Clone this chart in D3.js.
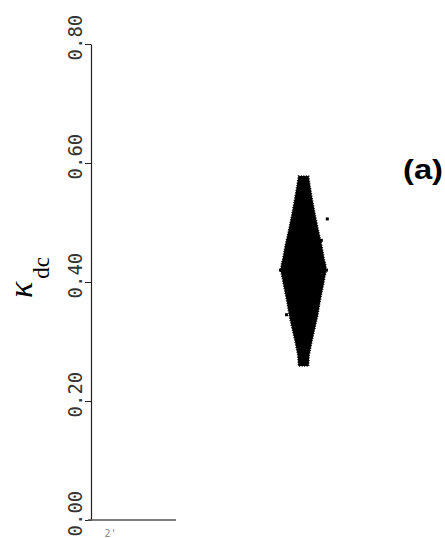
<!DOCTYPE html>
<html>
  <head>
    <title></title>
    <style type="text/css">
        html, body{
            padding: 0px;
            margin: 0px;
            background: #fff;
        }
        .tick text{
            font-family: "DejaVu Sans Mono", monospace;
            font-size: 19px;
            fill: #333;
        }
    </style>
  </head>
  <body>
    <div id="vis"></div>
    <script src="https://cdnjs.cloudflare.com/ajax/libs/d3/7.8.5/d3.min.js"></script>
    <script type="text/javascript">

        var width = 445,
            height = 538;

        // y ticks
        var yTicks = [0.00, 0.20, 0.40, 0.60, 0.80];
        var yTickLabels = ["0.00", "0.20", "0.40", "0.60", "0.80"];

        // envelope of the kappa_dc cloud
        var cloudCenter = 2.5;
        var cloudKappa = [0.259, 0.277, 0.300, 0.319, 0.345, 0.370, 0.395, 0.410, 0.420, 0.432, 0.437, 0.462, 0.487, 0.512, 0.538, 0.560, 0.578];
        var cloudHalf  = [0.060, 0.068, 0.100, 0.130, 0.170, 0.200, 0.235, 0.255, 0.270, 0.258, 0.247, 0.215, 0.176, 0.140, 0.106, 0.080, 0.060];

        // a few stray points at the edge
        var strayX = [2.23, 2.77, 2.78, 2.30, 2.71];
        var strayK = [0.420, 0.420, 0.506, 0.345, 0.470];

        var svg = d3.select("#vis").append("svg")
            .attr("width", width)
            .attr("height", height);

        var x = d3.scaleLinear().domain([0, 4]).range([91, 431]);
        var y = d3.scaleLinear().domain([0, 0.8]).range([520, 44]);

        // y axis
        var yAxis = d3.axisLeft(y)
            .tickValues(yTicks)
            .tickFormat(function(d, i) { return yTickLabels[i]; })
            .tickSize(6)
            .tickSizeOuter(0);

        var gy = svg.append("g")
            .attr("transform", "translate(" + x(0) + ",0)")
            .call(yAxis);

        gy.select(".domain").attr("stroke", "#222").attr("stroke-width", 1.2);
        gy.selectAll(".tick line").attr("stroke", "#222");
        gy.selectAll(".tick text")
            .attr("x", null).attr("dy", null)
            .attr("text-anchor", "start")
            .attr("transform", "translate(-9,16) rotate(-90)")
            .attr("x", 0).attr("y", 0);

        // short bottom axis line
        svg.append("line")
            .attr("x1", x(0) - 3).attr("x2", x(1))
            .attr("y1", y(0)).attr("y2", y(0))
            .attr("stroke", "#555")
            .attr("stroke-width", 1.3);

        // x tick label at the bottom edge
        svg.append("text")
            .attr("x", x(0.16))
            .attr("y", 537)
            .attr("font-family", "DejaVu Sans Mono, monospace")
            .attr("font-size", 10)
            .attr("fill", "#888")
            .text("2'");

        // y label kappa_dc
        var lab = svg.append("text")
            .attr("transform", "translate(32,298) rotate(-90)")
            .attr("font-family", "Liberation Serif, serif");
        lab.append("tspan")
            .attr("font-size", 34)
            .attr("font-style", "italic")
            .text("κ");
        lab.append("tspan")
            .attr("font-size", 23)
            .attr("dx", 3)
            .attr("dy", 17)
            .text("dc");

        // cloud
        var area = d3.area()
            .curve(d3.curveLinear)
            .y(function(d, i) { return y(cloudKappa[i]); })
            .x0(function(d, i) { return x(cloudCenter - cloudHalf[i]); })
            .x1(function(d, i) { return x(cloudCenter + cloudHalf[i]); });

        svg.append("path")
            .datum(cloudKappa)
            .attr("d", area)
            .attr("fill", "#000")
            .attr("stroke", "#000")
            .attr("stroke-width", 1.5)
            .attr("stroke-dasharray", "1,1.5");

        svg.selectAll("rect.stray")
            .data(strayX)
            .enter().append("rect")
            .attr("class", "stray")
            .attr("x", function(d) { return x(d) - 1.5; })
            .attr("y", function(d, i) { return y(strayK[i]) - 1.5; })
            .attr("width", 3)
            .attr("height", 3)
            .attr("fill", "#000");

        // panel label
        svg.append("text")
            .attr("x", 403)
            .attr("y", 179)
            .attr("font-family", "Liberation Sans, Arial, sans-serif")
            .attr("font-weight", "bold")
            .attr("font-size", 28)
            .attr("textLength", 40)
            .attr("lengthAdjust", "spacingAndGlyphs")
            .text("(a)");

    </script>
  </body>
</html>
